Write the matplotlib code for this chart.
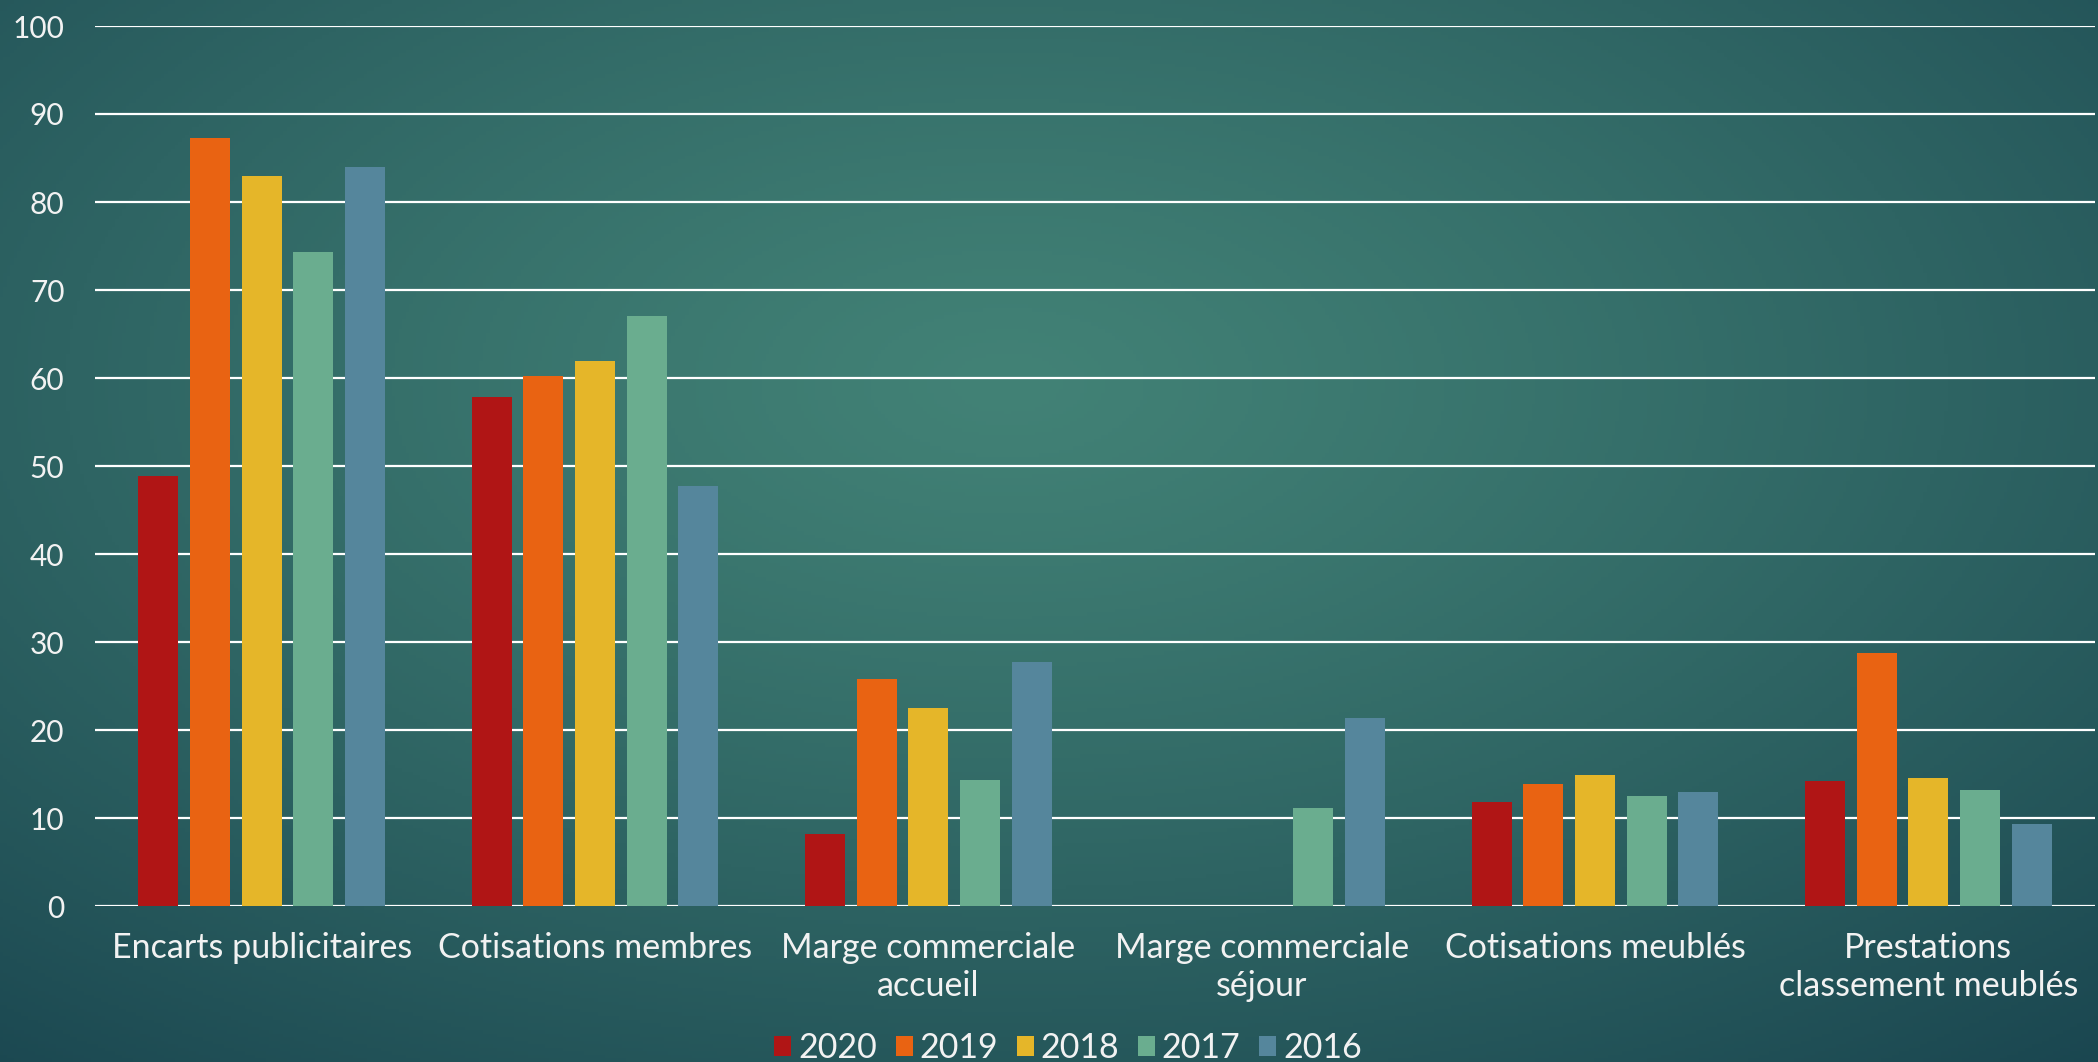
import numpy as np
import matplotlib
matplotlib.use("Agg")
import matplotlib.pyplot as plt

categories = ["Encarts publicitaires", "Cotisations membres", "Marge commerciale\naccueil",
              "Marge commerciale\nséjour", "Cotisations meublés", "Prestations\nclassement meublés"]
years = ["2020", "2019", "2018", "2017", "2016"]
v2020 = [48.9, 57.8, 8.2, 0, 11.8, 14.2]
v2019 = [87.3, 60.2, 25.8, 0, 13.9, 28.7]
v2018 = [83.0, 61.9, 22.5, 0, 14.9, 14.6]
v2017 = [74.3, 67.0, 14.3, 11.1, 12.5, 13.2]
v2016 = [84.0, 47.7, 27.7, 21.4, 12.9, 9.3]
series = [v2020, v2019, v2018, v2017, v2016]
colors = ["#B01515", "#E96312", "#E5B629", "#6AAD8F", "#55869C"]
yticks = [0, 10, 20, 30, 40, 50, 60, 70, 80, 90, 100]

plt.rcParams['font.family'] = ['Lato', 'DejaVu Sans']
W, H = 2098, 1062
fig = plt.figure(figsize=(W / 100, H / 100), dpi=100)

# background gradient
bg = fig.add_axes([0, 0, 1, 1], zorder=-10)
yy, xx = np.mgrid[0:1:300j, 0:1:600j]
r = np.sqrt(((xx - 0.48) / 0.8) ** 2 + ((yy - 0.36) / 0.85) ** 2)
t = np.clip(r, 0, 1) ** 1.2
c_in = np.array([66, 130, 118]) / 255
c_out = np.array([26, 70, 80]) / 255
img = c_in[None, None, :] * (1 - t[..., None]) + c_out[None, None, :] * t[..., None]
bg.imshow(img, aspect='auto', extent=[0, 1, 0, 1], origin='upper')
bg.axis('off')

ax = fig.add_axes([95 / W, 1 - 906 / H, 2000 / W, 880 / H])
ax.set_facecolor('none')
x = np.arange(len(categories))
pitch = 0.155
bw = 0.12
for j, (vals, col, yr) in enumerate(zip(series, colors, years)):
    ax.bar(x + (j - 2) * pitch, vals, width=bw, color=col, label=yr, zorder=3)

ax.set_xlim(-0.5, len(categories) - 0.5)
ax.set_ylim(0, 100)
ax.set_yticks(yticks)
ax.set_yticklabels([str(v) for v in yticks])
ax.set_xticks(x)
ax.set_xticklabels(categories, linespacing=1.2, fontsize=24.5)
ax.grid(axis='y', color='white', linewidth=1.6, zorder=0)
ax.set_axisbelow(True)
for s in ax.spines.values():
    s.set_visible(False)
ax.tick_params(axis='both', length=0, colors='#F2F2F2')
ax.tick_params(axis='y', pad=22, labelsize=21.5)
ax.tick_params(axis='x', pad=19)

fig.legend(loc='center', bbox_to_anchor=(1068 / W, 1 - 1048 / H), ncol=5, frameon=False,
           fontsize=24.5, labelcolor='#F2F2F2', handlelength=0.5, handleheight=0.5,
           handletextpad=0.2, columnspacing=0.55, borderpad=0)

fig.savefig("out.png", dpi=100)
